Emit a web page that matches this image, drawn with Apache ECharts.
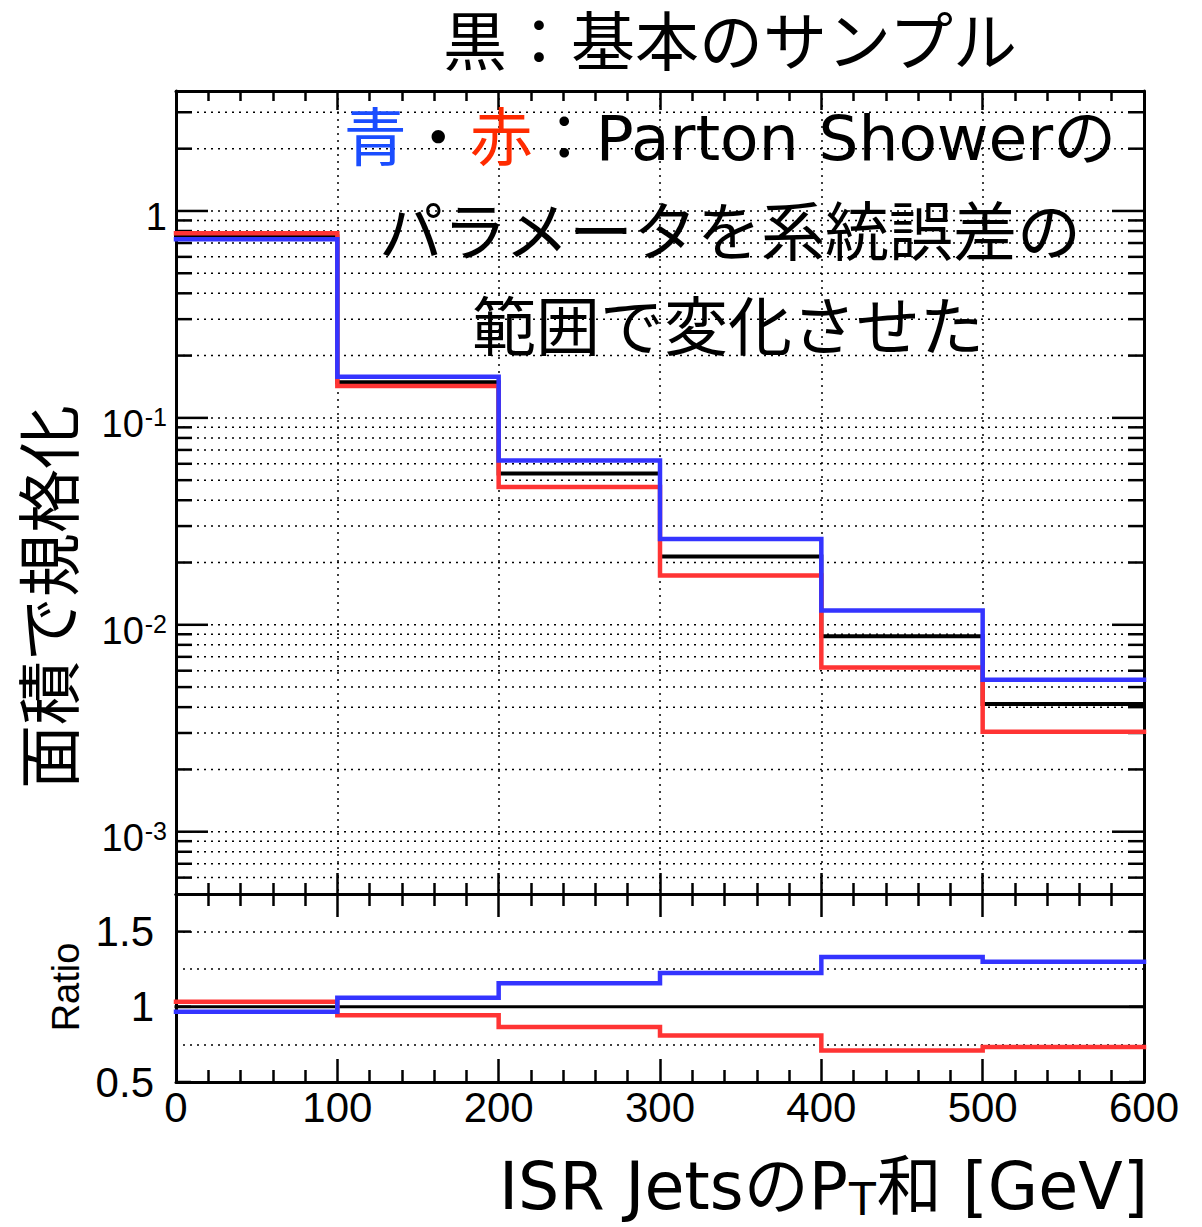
<!DOCTYPE html>
<html>
<head>
<meta charset="utf-8">
<script src="https://cdn.jsdelivr.net/npm/echarts@6/dist/echarts.min.js"></script>
<style>html,body{margin:0;padding:0;background:#fff}#c{width:1202px;height:1227px}</style>
</head>
<body>
<div id="c"></div>
<script>
// ---- data ----
const binEdges = [0, 100, 200, 300, 400, 500, 600];
const nominal  = [0.755, 0.1486, 0.0538, 0.0214, 0.00881, 0.00414];   // black
const psUp     = [0.730, 0.158, 0.0622, 0.0260, 0.01172, 0.00542];    // blue
const psDown   = [0.780, 0.1425, 0.0464, 0.0173, 0.00622, 0.00304];   // red
const ratioNominal = [1, 1, 1, 1, 1, 1];
const ratioUp      = [0.967, 1.060, 1.157, 1.225, 1.331, 1.300];
const ratioDown    = [1.033, 0.944, 0.865, 0.810, 0.710, 0.733];
const xTickLabels  = [0, 100, 200, 300, 400, 500, 600];
const logDecades   = [0.0001, 0.001, 0.01, 0.1, 1];
const logLabelTicks = [0.001, 0.01, 0.1, 1];
const logMinorMult = [2, 3, 4, 5, 6, 7, 8, 9];
const ratioLabelTicks = [0.5, 1, 1.5];

const Y_MIN = 5e-4, Y_MAX = 3.8, R_MIN = 0.5, R_MAX = 1.75;
const NUM_FONT = "'Liberation Sans', Arial, sans-serif";
const JP_FONT = "'DejaVu Sans', 'Noto Sans CJK JP', sans-serif";
const BLUE = '#3434ff', RED = '#ff3434';

function stepData(vals) {
  return binEdges.map((x, i) => [x, vals[Math.min(i, vals.length - 1)]]);
}

const logGrid = [];
logDecades.forEach(d => {
  if (d >= Y_MIN && d <= Y_MAX) logGrid.push([0, d, 1]);
  logMinorMult.forEach(m => {
    const v = d * m;
    if (v > Y_MIN * 1.0001 && v < Y_MAX) logGrid.push([0, v, 0]);
  });
});

// text width measurement for the x-axis title pieces
const mctx = document.createElement('canvas').getContext('2d');
function textWidth(str, size) { mctx.font = size + 'px ' + JP_FONT; return mctx.measureText(str).width; }
const XT_RIGHT = 1148, XT_Y = 1186, XT_SIZE = 65, XT_SUB = 44;
const xtPart3 = '和 [GeV]', xtSub = 'T', xtPart1 = 'ISR JetsのP';
const w3 = textWidth(xtPart3, XT_SIZE), wT = textWidth(xtSub, XT_SUB);

const chart = echarts.init(document.getElementById('c'), null, {renderer: 'svg'});

const tickStyle = {color: '#000', width: 2.5};
function xAxisDef(grid, pos, major, minor, labels, split) {
  return {
    type: 'value', gridIndex: grid, position: pos, min: 0, max: 600, interval: 100,
    axisLine: {show: true, onZero: false, lineStyle: {color: '#000', width: 3}},
    axisTick: {show: true, inside: true, length: major, lineStyle: tickStyle},
    minorTick: {show: true, splitNumber: 5, length: minor, lineStyle: tickStyle},
    axisLabel: labels ? {
      show: true, fontSize: 42, fontFamily: NUM_FONT, color: '#000', margin: 4,
      customValues: xTickLabels,
      formatter: v => String(v)
    } : {show: false},
    splitLine: split ? {show: true, lineStyle: {color: '#000', width: 1.5, type: [2, 5]}} : {show: false},
    minorSplitLine: {show: false}
  };
}

function lineSeries(data, color, width, xi, yi, z) {
  return {
    type: 'line', xAxisIndex: xi, yAxisIndex: yi, data: stepData(data), step: 'end',
    showSymbol: false, symbol: 'none', z: z, silent: true, animation: false,
    lineStyle: {color: color, width: width, cap: 'square', join: 'miter'}
  };
}

function tickRender(lenMajor, lenMinor, xmin, xmax, withGrid) {
  return function (params, api) {
    const v = api.value(1), major = api.value(2);
    const p0 = api.coord([xmin, v]), p1 = api.coord([xmax, v]);
    const L = major ? lenMajor : lenMinor;
    const ch = [];
    if (withGrid) ch.push({type: 'line', shape: {x1: p0[0], y1: p0[1], x2: p1[0], y2: p1[1]},
      style: {stroke: '#000', lineWidth: 1.5, lineDash: [2, 5]}});
    ch.push({type: 'line', shape: {x1: p0[0], y1: p0[1], x2: p0[0] + L, y2: p0[1]}, style: {stroke: '#000', lineWidth: 2.5}});
    ch.push({type: 'line', shape: {x1: p1[0] - L, y1: p1[1], x2: p1[0], y2: p1[1]}, style: {stroke: '#000', lineWidth: 2.5}});
    return {type: 'group', children: ch};
  };
}

const option = {
  animation: false,
  backgroundColor: '#fff',
  grid: [
    {left: 176, top: 91, width: 968, height: 803, show: false},
    {left: 176, top: 894, width: 968, height: 188, show: false}
  ],
  xAxis: [
    xAxisDef(0, 'bottom', 21, 11, false, true),
    xAxisDef(0, 'top', 19, 10, false, false),
    xAxisDef(1, 'bottom', 23, 12, true, false),
    xAxisDef(1, 'top', 23, 12, false, false)
  ],
  yAxis: [
    {
      type: 'log', logBase: 10, gridIndex: 0, position: 'left', min: Y_MIN, max: Y_MAX,
      axisLine: {show: true, onZero: false, lineStyle: {color: '#000', width: 3}},
      axisTick: {show: false}, splitLine: {show: false}, minorTick: {show: false},
      axisLabel: {
        show: true, margin: 9, color: '#000', fontSize: 38, fontFamily: NUM_FONT,
        customValues: logLabelTicks, padding: [12, 0, 0, 0],
        formatter: v => { const n = Math.round(Math.log10(v)); return n === 0 ? '1' : '10{sup|' + n + '}'; },
        rich: {sup: {fontSize: 25, fontFamily: NUM_FONT, color: '#000', verticalAlign: 'top', lineHeight: 26, padding: [0, 0, 0, 1]}}
      }
    },
    {
      type: 'log', logBase: 10, gridIndex: 0, position: 'right', min: Y_MIN, max: Y_MAX,
      axisLine: {show: true, onZero: false, lineStyle: {color: '#000', width: 3}},
      axisTick: {show: false}, splitLine: {show: false}, axisLabel: {show: false}
    },
    {
      type: 'value', gridIndex: 1, position: 'left', min: R_MIN, max: R_MAX, interval: 0.25,
      axisLine: {show: true, onZero: false, lineStyle: {color: '#000', width: 3}},
      axisTick: {show: false},
      splitLine: {show: true, lineStyle: {color: '#000', width: 1.5, type: [2, 5]}},
      axisLabel: {
        show: true, margin: 22, color: '#000', fontSize: 42, fontFamily: NUM_FONT, padding: [4, 0, 0, 0],
        formatter: v => (ratioLabelTicks.some(t => Math.abs(t - v) < 1e-9) ? String(v) : '')
      }
    },
    {
      type: 'value', gridIndex: 1, position: 'right', min: R_MIN, max: R_MAX, interval: 0.25,
      axisLine: {show: true, onZero: false, lineStyle: {color: '#000', width: 3}},
      axisTick: {show: false}, splitLine: {show: false}, axisLabel: {show: false}
    }
  ],
  series: [
    {
      type: 'custom', xAxisIndex: 0, yAxisIndex: 0, z: 1, silent: true, clip: false,
      data: logGrid, renderItem: tickRender(32, 16, 0, 600, true)
    },
    {
      type: 'custom', xAxisIndex: 2, yAxisIndex: 2, z: 1, silent: true, clip: false,
      data: ratioLabelTicks.map(v => [0, v, 1]), renderItem: tickRender(15, 15, 0, 600, false)
    },
    lineSeries(nominal, '#000', 4, 0, 0, 3),
    lineSeries(psDown, RED, 4.5, 0, 0, 4),
    lineSeries(psUp, BLUE, 4.5, 0, 0, 5),
    lineSeries(ratioNominal, '#000', 3, 2, 2, 3),
    lineSeries(ratioDown, RED, 4.5, 2, 2, 4),
    lineSeries(ratioUp, BLUE, 4.5, 2, 2, 5)
  ],
  graphic: [
    {type: 'text', x: 730, y: 43, z: 10, style: {text: '黒：基本のサンプル', fontSize: 64, fontFamily: JP_FONT, fill: '#000', align: 'center', verticalAlign: 'middle'}},
    {type: 'text', x: 730, y: 138, z: 10, style: {
      text: '{b|青}{k|・}{r|赤}{k|：Parton Showerの}', align: 'center', verticalAlign: 'middle',
      fontSize: 63, fontFamily: JP_FONT, fill: '#000',
      rich: {
        b: {fontSize: 63, fontFamily: JP_FONT, fill: '#1a4dff', color: '#1a4dff'},
        r: {fontSize: 63, fontFamily: JP_FONT, fill: '#ff2b00', color: '#ff2b00'},
        k: {fontSize: 63, fontFamily: JP_FONT, fill: '#000', color: '#000'}
      }}},
    {type: 'text', x: 730, y: 233, z: 10, style: {text: 'パラメータを系統誤差の', fontSize: 64, fontFamily: JP_FONT, fill: '#000', align: 'center', verticalAlign: 'middle'}},
    {type: 'text', x: 728, y: 328, z: 10, style: {text: '範囲で変化させた', fontSize: 64, fontFamily: JP_FONT, fill: '#000', align: 'center', verticalAlign: 'middle'}},
    {type: 'text', x: 51, y: 597, rotation: Math.PI / 2, z: 10, style: {text: '面積で規格化', fontSize: 64, fontFamily: JP_FONT, fill: '#000', align: 'center', verticalAlign: 'middle'}},
    {type: 'text', x: 66, y: 987, rotation: Math.PI / 2, z: 10, style: {text: 'Ratio', fontSize: 38, fontFamily: NUM_FONT, fill: '#000', align: 'center', verticalAlign: 'middle'}},
    {type: 'text', x: XT_RIGHT, y: XT_Y, z: 10, style: {text: xtPart3, fontSize: XT_SIZE, fontFamily: JP_FONT, fill: '#000', align: 'right', verticalAlign: 'middle'}},
    {type: 'text', x: XT_RIGHT - w3 - 1, y: XT_Y + 13, z: 10, style: {text: xtSub, fontSize: XT_SUB, lineHeight: 36, fontFamily: JP_FONT, fill: '#000', align: 'right', verticalAlign: 'middle'}},
    {type: 'text', x: XT_RIGHT - w3 - wT - 2, y: XT_Y, z: 10, style: {text: xtPart1, fontSize: XT_SIZE, fontFamily: JP_FONT, fill: '#000', align: 'right', verticalAlign: 'middle'}}
  ]
};
chart.setOption(option);
</script>
</body>
</html>
